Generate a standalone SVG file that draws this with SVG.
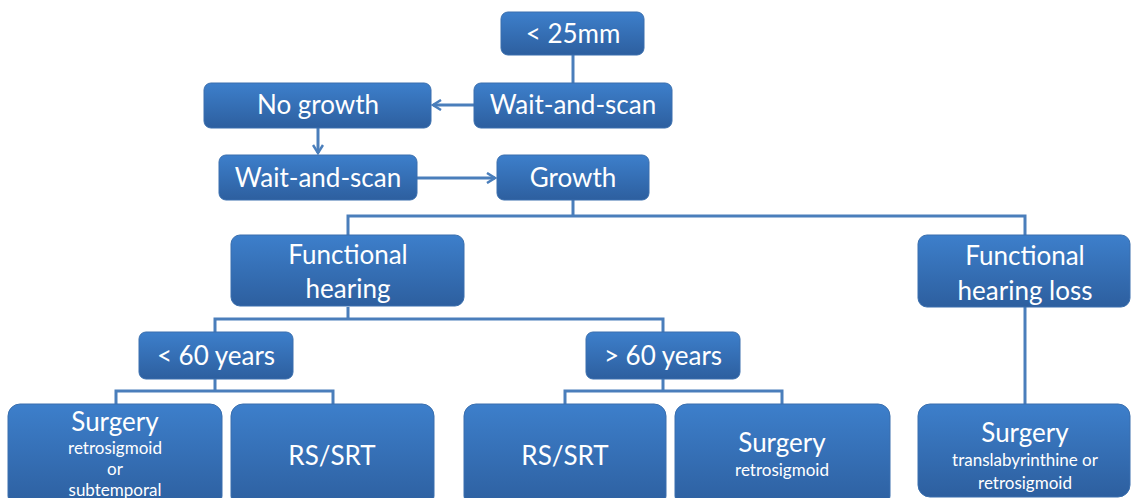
<svg xmlns="http://www.w3.org/2000/svg" width="1131" height="498" viewBox="0 0 1131 498">
<style>
.box{fill:url(#g);stroke:#3a6fae;stroke-width:1}
.t{font-family:Lato,"Open Sans","Liberation Sans",sans-serif;fill:#fff;text-anchor:middle;font-size:26px}
.s{font-size:17px}
.c{fill:none;stroke:#4a7ebb;stroke-width:3}
</style>
<defs>
<linearGradient id="g" x1="0" y1="0" x2="0" y2="1">
<stop offset="0" stop-color="#3d7fcb"/>
<stop offset="1" stop-color="#2d5f9f"/>
</linearGradient>
<marker id="a" viewBox="0 0 12 12" refX="10" refY="6" markerWidth="12" markerHeight="12" markerUnits="userSpaceOnUse" orient="auto">
<polyline points="2,1 10,6 2,11" fill="none" stroke="#4a7ebb" stroke-width="2.5"/>
</marker>
</defs>
<g id="connectors">
<path class="c" d="M573 55V83"/>
<path class="c" d="M474 105H433" marker-end="url(#a)"/>
<path class="c" d="M318 128V153" marker-end="url(#a)"/>
<path class="c" d="M417 178H495" marker-end="url(#a)"/>
<path class="c" d="M573 200V216M348 235V216H1025V235"/>
<path class="c" d="M348 307V319M215 332V319H663V332"/>
<path class="c" d="M1025 307V404"/>
<path class="c" d="M215 379V391M116 404V391H333V404"/>
<path class="c" d="M663 379V391M565 404V391H782V404"/>
</g>
<g id="n25"><rect class="box" x="501" y="12" width="143" height="43" rx="7"/><text class="t" x="573" y="43">&lt; 25mm</text></g>
<g id="wait1"><rect class="box" x="474" y="83" width="198" height="45" rx="7"/><text class="t" x="573" y="114">Wait-and-scan</text></g>
<g id="nogrowth"><rect class="box" x="204" y="83" width="227" height="45" rx="7"/><text class="t" x="318" y="114">No growth</text></g>
<g id="wait2"><rect class="box" x="219" y="155" width="198" height="45" rx="7"/><text class="t" x="318" y="187">Wait-and-scan</text></g>
<g id="growth"><rect class="box" x="497" y="155" width="152" height="45" rx="7"/><text class="t" x="573" y="187">Growth</text></g>
<g id="fh"><rect class="box" x="231" y="235" width="233" height="71" rx="9"/><text class="t" x="348" y="264">Functional</text><text class="t" x="348" y="298">hearing</text></g>
<g id="fhl"><rect class="box" x="918" y="235" width="212" height="72" rx="9"/><text class="t" x="1025" y="265">Functional</text><text class="t" x="1025" y="300">hearing loss</text></g>
<g id="lt60"><rect class="box" x="139" y="332" width="154" height="47" rx="7"/><text class="t" x="216" y="365">&lt; 60 years</text></g>
<g id="gt60"><rect class="box" x="586" y="332" width="154" height="47" rx="7"/><text class="t" x="663" y="365">&gt; 60 years</text></g>
<g id="surg1"><rect class="box" x="8" y="404" width="214" height="104" rx="12"/><text class="t" x="115" y="431">Surgery</text><text class="t s" x="115" y="454">retrosigmoid</text><text class="t s" x="115" y="475">or</text><text class="t s" x="115" y="496">subtemporal</text></g>
<g id="rs1"><rect class="box" x="231" y="404" width="203" height="104" rx="12"/><text class="t" x="332" y="465">RS/SRT</text></g>
<g id="rs2"><rect class="box" x="464" y="404" width="202" height="104" rx="12"/><text class="t" x="565" y="465">RS/SRT</text></g>
<g id="surg2"><rect class="box" x="675" y="404" width="215" height="104" rx="12"/><text class="t" x="782" y="452">Surgery</text><text class="t s" x="782" y="476">retrosigmoid</text></g>
<g id="surg3"><rect class="box" x="918" y="404" width="212" height="93" rx="12"/><text class="t" x="1025" y="442">Surgery</text><text class="t s" x="1025" y="466">translabyrinthine or</text><text class="t s" x="1025" y="489">retrosigmoid</text></g>
</svg>
